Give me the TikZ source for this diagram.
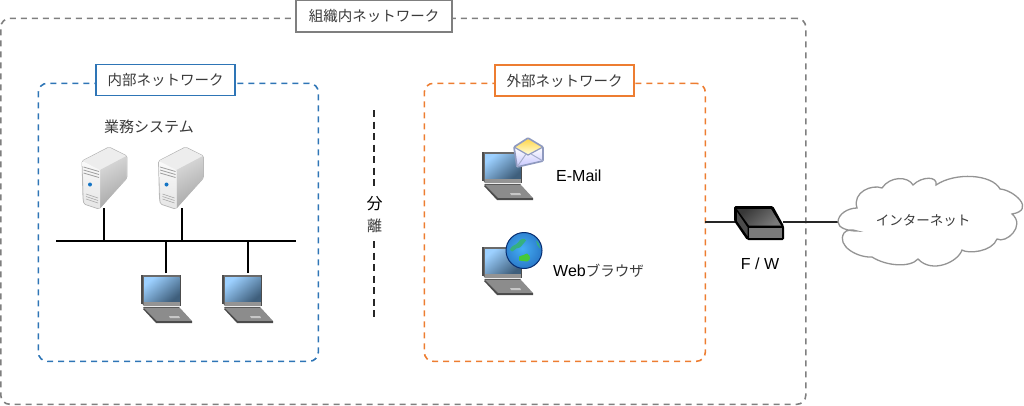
\documentclass[tikz,border=0pt]{standalone}
\usepackage{fontspec}
\setmainfont{Liberation Sans}
\newfontfamily\cjk{Noto Sans CJK JP}
\newcommand{\jp}[1]{{\cjk\fontsize{14.5}{16}\selectfont\color{jptext}#1}}
\newcommand{\lat}[1]{{\fontsize{16}{18}\selectfont\color{black}#1}}
\definecolor{jptext}{HTML}{3A3A3A}
\definecolor{grayb}{HTML}{7F7F7F}
\definecolor{blueb}{HTML}{2E75B6}
\definecolor{orangeb}{HTML}{ED7D31}
\definecolor{lapedge}{HTML}{6A6A6A}
\definecolor{scrA}{HTML}{9CD0FF}
\definecolor{scrB}{HTML}{3F5F7C}
\definecolor{envedge}{HTML}{8F9ABF}
\definecolor{landA}{HTML}{35B080}
\definecolor{landB}{HTML}{45C83A}
\definecolor{globeA}{HTML}{45AEF5}
\definecolor{globeB}{HTML}{0A3C96}
\tikzset{
 x=1pt,y=-1pt,
 region/.style={draw,dashed,dash pattern=on 6pt off 5pt,line width=1.6pt,rounded corners=9pt,anchor=north west,inner sep=0pt},
 tagbox/.style={draw,line width=1.5pt,fill=white,inner sep=0pt,anchor=center},
 wire/.style={line width=1.4pt,black},
 lbl/.style={inner sep=0pt},
 pics/laptop/.style={code={
   \fill[lapedge] (0,0) -- (39,0) -- (39,31) -- (3,31) -- (0,27) -- cycle;
   \fill[black!70] (0,0) rectangle (1.5,29);
   \fill[black!70] (38.5,0) rectangle (40,31);
   \shade[left color=scrA,right color=scrB,shading angle=40] (3,2.5) rectangle (38.5,27);
   \fill[black!42] (3,27) rectangle (38.5,31);
   \fill[black!65] (2,32) -- (38,32) -- (39,33) -- (3,33) -- cycle;
   \fill[black!45] (3,33) -- (39,33) -- (51,46) -- (16,46) -- cycle;
   \fill[black!70] (3,33) -- (16,46) -- (51,46) -- (51,48) -- (15,48) -- (2,34) -- cycle;
   \fill[black!22] (28,41) -- (38,41) -- (39,43) -- (29,43) -- cycle;
 }},
 pics/server/.style={code={
   \begin{scope}[line join=round]
   \fill[black!10,draw=black!28,line width=.8pt,rounded corners=1.5pt] (0,14) -- (27,0) -- (45,9) -- (45,31) -- (17,62) -- (2,57) -- (1,52) -- cycle;
   \fill[black!7,rounded corners=1pt] (0.5,14) -- (27,0.5) -- (44.5,9) -- (18,23) -- cycle;
   \shade[left color=black!15,right color=black!35,shading angle=30,rounded corners=1pt] (18,23) -- (44.5,9) -- (44.5,31) -- (18,61.5) -- cycle;
   \shade[top color=black!2,bottom color=black!10,rounded corners=1pt] (0.5,14) -- (18,23) -- (18,61.5) -- (2.5,56.5) -- cycle;
   \foreach \yy in {20,23,26}{\draw[black!38,line width=.8pt] (1.5,\yy) -- (17,\yy+4.5);}
   \foreach \yy in {47,49.5,52}{\draw[black!35,line width=.6pt] (4,\yy) -- (16,\yy+4);}
   \fill[cyan!55!blue] (8,37.5) circle (2pt);
   \end{scope}
 }}
}
\begin{document}
\begin{tikzpicture}
\useasboundingbox (0,0) rectangle (1024,405);
% regions
\node[region,draw=grayb,minimum width=805pt,minimum height=386pt] (outer) at (0,17.5) {};
\node[region,draw=blueb,minimum width=280pt,minimum height=278pt] (inner) at (37.5,82.5) {};
\node[region,draw=orangeb,minimum width=281pt,minimum height=278pt] (ext) at (423.5,82.5) {};
\node[tagbox,draw=grayb,minimum width=156pt,minimum height=32pt] (t0) at (374,16) {\jp{組織内ネットワーク}};
\node[tagbox,draw=blueb,minimum width=139pt,minimum height=31pt] (t1) at (165.7,80.2) {\jp{内部ネットワーク}};
\node[tagbox,draw=orangeb,minimum width=139pt,minimum height=31pt] (t2) at (564.5,80.5) {\jp{外部ネットワーク}};
% separator
\coordinate (d1) at (374,110); \coordinate (d2) at (374,189);
\coordinate (d3) at (374,241); \coordinate (d4) at (374,320);
\draw[line width=1.6pt,black!85,dash pattern=on 7pt off 4.5pt] (d1) -- (d2) (d3) -- (d4);
\node[lbl] (sep1) at (374.5,204) {{\cjk\fontsize{16}{18}\selectfont 分}};
\node[lbl] (sep2) at (374.5,226) {{\cjk\fontsize{15}{17}\selectfont\color{jptext} 離}};
% internal bus and anchors
\coordinate (busL) at (56,241); \coordinate (busR) at (296,241);
\coordinate (s1) at (104,208); \coordinate (s2) at (182,208);
\coordinate (l1) at (166,273); \coordinate (l2) at (248,273);
\coordinate (b1) at (104,241); \coordinate (b2) at (182,241);
\coordinate (b3) at (166,241); \coordinate (b4) at (248,241);
\draw[wire] (busL) -- (busR);
\draw[wire] (s1) -- (b1) (s2) -- (b2) (l1) -- (b3) (l2) -- (b4);
\pic at (82,147) {server};
\pic at (158.5,147) {server};
\pic at (141,275) {laptop};
\pic at (222,275) {laptop};
\node[lbl] (biz) at (149,127) {{\cjk\fontsize{15}{17}\selectfont\color{jptext}業務システム}};
% external
\pic at (482,152) {laptop};
\pic at (482,247) {laptop};
% envelope
\coordinate (env) at (514,138);
\begin{scope}[shift={(env)},line join=round]
 \shade[top color=orange!45!yellow!70!white,bottom color=yellow!12!white] (1,9) -- (14,1) -- (28,9) -- (15,17) -- cycle;
 \shade[top color=white,bottom color=blue!22!white] (0,9) -- (14,17) -- (29,9) -- (29,23) -- (3,29) -- cycle;
 \draw[envedge,line width=1.7pt,rounded corners=1pt] (0,9) -- (14,0) -- (29,9) -- (29,23) -- (3,29) -- cycle;
 \draw[envedge,line width=1.2pt] (0,9) -- (14,17) -- (29,9);
 \draw[envedge!80!white,line width=1pt] (3,29) -- (12,16) (29,23) -- (17,16);
\end{scope}
% globe
\coordinate (glob) at (524,250.5);
\begin{scope}
 \clip (glob) circle (18pt);
 \shade[inner color=globeA,outer color=globeB] ([shift={(-2,-2)}]glob) circle (44pt);
\end{scope}
\begin{scope}[shift={(glob)}]
 \fill[landA] (-14,-1) .. controls (-12,-6) and (-8,-5) .. (-6,-8) .. controls (-4,-12) and (1,-13) .. (2,-10) .. controls (1,-7) and (-2,-7) .. (-3,-4) .. controls (-4,-2) and (-8,-3) .. (-9,-1) .. controls (-10,1) and (-13,2) .. (-14,-1) -- cycle;
 \fill[landB] (-5,6) .. controls (-2,4) and (1,5) .. (3,3) .. controls (7,5) and (7,10) .. (3,11) .. controls (0,10) and (-3,11) .. (-5,10) -- cycle;
 \fill[landA] (12,-10) .. controls (15,-8) and (16,-5) .. (16,-2) .. controls (14,-4) and (12,-7) .. (12,-10) -- cycle;
 \draw[globeB!75!black,line width=1pt] (0,0) circle (18pt);
\end{scope}
\node[lbl,anchor=west] (mail) at (556,176) {\lat{E-Mail}};
\node[lbl,anchor=west] (web) at (553,271) {\lat{Web}\jp{ブラウザ}};
% firewall
\node[minimum width=48pt,minimum height=32pt,inner sep=0pt] (fw) at (759,222) {};
\coordinate (extE) at (705,222);
\coordinate (cloudW) at (838,222);
\draw[line width=1.4pt,black!85] (extE) -- (fw.west) (fw.east) -- (cloudW);
\begin{scope}[line join=round]
 \fill[black,rounded corners=1.5pt] (734,206) -- (773,206) -- (784,226) -- (784,240) -- (747,240) -- (734,221) -- cycle;
 \shade[left color=black!78,right color=black!52,shading angle=40] (737,209) -- (771,209) -- (781,225.5) -- (749,225.5) -- cycle;
 \fill[black!52] (749,227.5) rectangle (781.5,237.5);
 \fill[black!70] (737,212) -- (747.5,227.5) -- (747.5,236) -- (737,221) -- cycle;
\end{scope}
\node[lbl] (fwl) at (760,264) {\lat{F / W}};
% cloud
\draw[line width=1.3pt,black!42,fill=white] (cloudW)
 .. controls (838,214) and (848,208) .. (857,208)
 .. controls (852,192) and (872,184) .. (882,188)
 .. controls (890,176) and (908,176) .. (913,185)
 .. controls (922,176) and (938,176) .. (936,185)
 .. controls (955,172) and (992,174) .. (1000,189)
 .. controls (1014,190) and (1036,210) .. (1012,214)
 .. controls (1026,226) and (1006,244) .. (997,239)
 .. controls (992,252) and (968,254) .. (962,250)
 .. controls (958,262) and (932,274) .. (918,259)
 .. controls (910,268) and (886,266) .. (872,257)
 .. controls (858,258) and (836,246) .. (844,233)
 .. controls (846,230) and (852,229) .. (857,231)
 .. controls (848,231) and (838,228) .. (838,222) -- cycle;
\node[lbl] (cloudT) at (923,220.5) {{\cjk\fontsize{13.5}{15}\selectfont\color{jptext}インターネット}};
\end{tikzpicture}
\end{document}
